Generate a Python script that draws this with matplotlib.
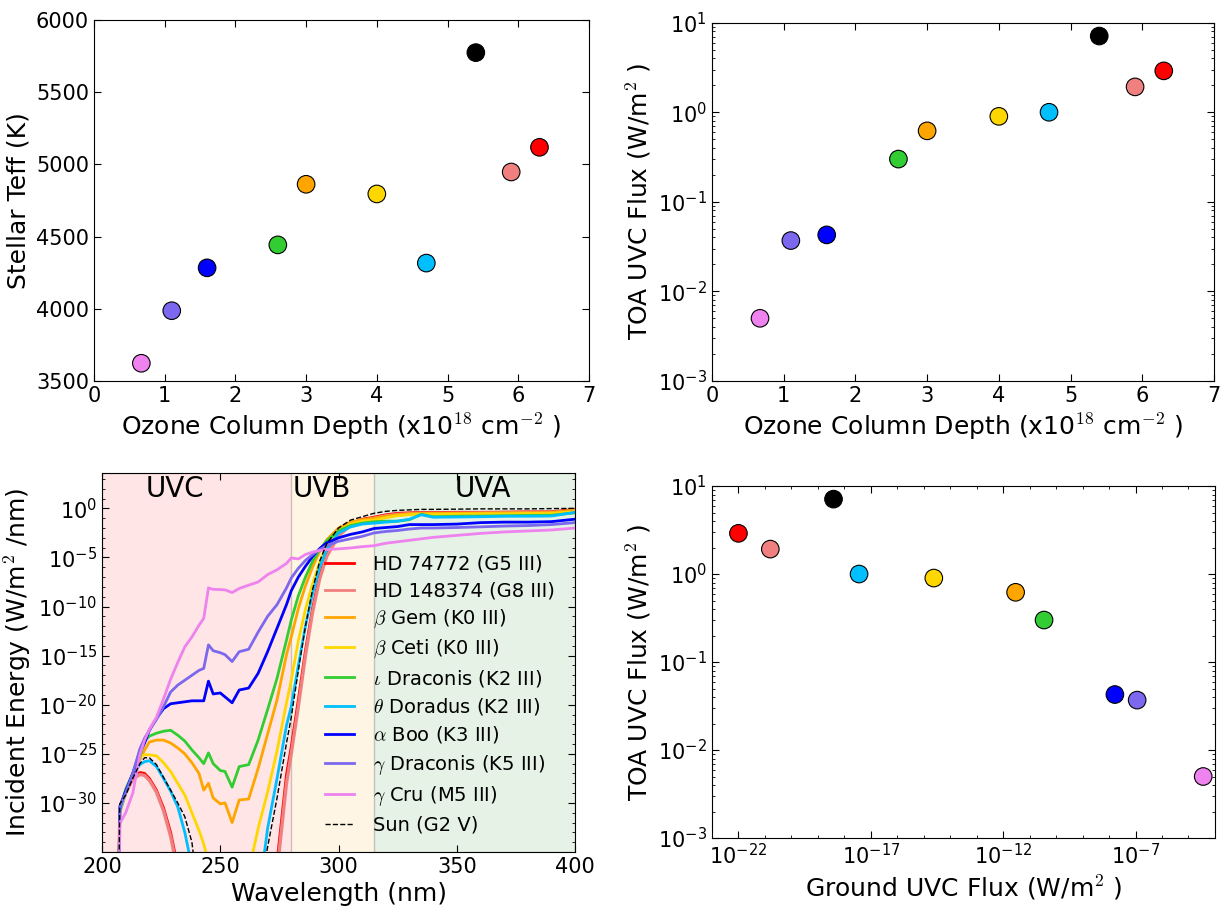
import numpy as np
import matplotlib
matplotlib.use("Agg")
import matplotlib.pyplot as plt

plt.rcParams["font.family"] = ["DejaVu Sans"]
plt.rcParams["mathtext.fontset"] = "cm"
plt.rcParams["xtick.direction"] = "in"
plt.rcParams["ytick.direction"] = "in"
plt.rcParams["xtick.top"] = True
plt.rcParams["ytick.right"] = True
plt.rcParams["xtick.major.size"] = 5
plt.rcParams["ytick.major.size"] = 5
plt.rcParams["xtick.minor.size"] = 2.5
plt.rcParams["ytick.minor.size"] = 2.5
plt.rcParams["xtick.labelsize"] = 15
plt.rcParams["ytick.labelsize"] = 15
plt.rcParams["axes.labelsize"] = 18

# stars, in legend order (Sun last)
names = ["HD 74772 (G5 III)", "HD 148374 (G8 III)", r"$\beta$ Gem (K0 III)",
         r"$\beta$ Ceti (K0 III)", r"$\iota$ Draconis (K2 III)",
         r"$\theta$ Doradus (K2 III)", r"$\alpha$ Boo (K3 III)",
         r"$\gamma$ Draconis (K5 III)", r"$\gamma$ Cru (M5 III)", "Sun (G2 V)"]
colors = ["red", "lightcoral", "orange", "gold", "limegreen",
          "deepskyblue", "blue", "mediumslateblue", "violet", "black"]

ozone = [6.3, 5.9, 3.0, 4.0, 2.6, 4.7, 1.6, 1.1, 0.67, 5.4]          # x1e18 cm^-2
teff = [5118, 4947, 4862, 4795, 4442, 4316, 4283, 3986, 3622, 5774]   # K
toa_uvc = [2.9, 1.92, 0.62, 0.90, 0.30, 1.0, 0.0427, 0.0369, 0.0050, 7.1]
ground_uvc = [1.0e-22, 1.6e-21, 2.95e-12, 2.4e-15, 3.5e-11, 3.6e-18,
              1.66e-8, 1.15e-7, 3.6e-5, 3.9e-19]

# surface spectra: wavelength grid (nm) and log10 incident energy (W/m^2/nm)
wl = [207.0, 207.5, 210, 213, 216, 218, 220, 223, 226, 229, 232, 235, 238,
      241, 243, 245, 247, 250, 252, 255, 258, 262, 266, 270, 274, 278, 280,
      283, 286, 289, 292, 295, 300, 305, 310, 315, 320, 325, 330, 335, 340,
      350, 360, 370, 380, 390, 400]

log_hd74772 = [-40, -30.8, -28.8, -27.4, -26.9, -27.0, -27.5, -28.7, -30.5,
               -33.0, -36.5, -40, -40, -40, -40, -40, -40, -40, -40, -40, -40,
               -40, -40, -40, -36.0, -27.1, -24.3, -19.5, -14.5, -10.2, -6.9,
               -4.7, -2.6, -1.6, -1.1, -0.9, -0.65, -0.5, -0.45, -0.42, -0.42,
               -0.4, -0.4, -0.38, -0.35, -0.35, -0.1]
log_hd148374 = [-40, -30.9, -29.0, -27.6, -27.1, -27.2, -27.7, -28.9, -30.8,
                -33.4, -37.0, -40, -40, -40, -40, -40, -40, -40, -40, -40, -40,
                -40, -40, -40, -37.0, -28.0, -25.0, -20.2, -15.0, -10.6, -7.2,
                -4.9, -2.8, -1.75, -1.25, -1.0, -0.75, -0.6, -0.55, -0.5, -0.5,
                -0.48, -0.47, -0.45, -0.43, -0.42, -0.2]
log_bet_gem = [-40, -30.8, -28.8, -27.0, -25.6, -24.6, -23.8, -23.6, -23.6,
               -23.9, -24.4, -25.0, -25.9, -27.0, -28.7, -28.0, -29.5, -30.1,
               -30.0, -32.0, -29.7, -29.6, -26.5, -23.0, -19.5, -14.9, -13.1,
               -10.2, -7.9, -6.0, -4.4, -3.2, -2.0, -1.4, -1.15, -1.0, -0.8,
               -0.65, -0.55, -0.5, -0.5, -0.5, -0.48, -0.45, -0.45, -0.42, -0.17]
log_bet_ceti = [-40, -30.8, -29.0, -27.0, -25.3, -25.1, -25.1, -25.2, -25.9,
                -26.8, -28.0, -29.2, -31.0, -32.8, -34.2, -36.0, -40, -40, -40,
                -40, -40, -37.0, -32.6, -28.9, -24.7, -19.8, -17.5, -13.5,
                -10.3, -7.7, -5.5, -3.8, -2.3, -1.6, -1.3, -1.2, -0.95, -0.75,
                -0.65, -0.6, -0.6, -0.58, -0.55, -0.55, -0.52, -0.5, -0.34]
log_iot_dra = [-40, -30.6, -28.6, -27.0, -25.3, -23.7, -23.2, -22.9, -22.7,
               -22.6, -23.1, -23.7, -24.6, -25.4, -26.0, -24.9, -26.0, -26.7,
               -26.8, -28.4, -26.3, -26.1, -23.6, -20.5, -17.3, -13.4, -11.4,
               -8.9, -7.0, -5.4, -4.2, -3.3, -2.3, -1.75, -1.5, -1.36, -1.3,
               -1.3, -1.15, -0.6, -0.85, -0.8, -0.78, -0.75, -0.72, -0.7, -0.45]
log_the_dor = [-40, -30.8, -28.8, -27.1, -26.1, -25.8, -25.7, -26.3, -27.5,
               -28.8, -30.4, -33.0, -36.5, -40, -40, -40, -40, -40, -40, -40,
               -40, -40, -40, -32.6, -27.5, -22.1, -20.2, -16.0, -12.0, -8.7,
               -6.0, -4.2, -2.5, -1.9, -1.6, -1.5, -1.4, -1.3, -1.1, -0.65,
               -0.9, -0.88, -0.85, -0.8, -0.8, -0.78, -0.4]
log_alf_boo = [-40, -30.4, -28.8, -27.0, -24.8, -23.9, -22.6, -21.4, -20.4,
               -19.9, -19.8, -19.7, -19.6, -19.6, -19.6, -17.6, -18.9, -18.8,
               -19.2, -19.8, -18.5, -18.3, -16.8, -14.6, -12.2, -9.8, -8.4,
               -7.0, -5.9, -4.9, -4.1, -3.5, -3.0, -2.65, -2.4, -2.05, -1.95,
               -1.85, -1.65, -1.65, -1.65, -1.6, -1.45, -1.4, -1.4, -1.35, -1.1]
log_gam_dra = [-40, -30.4, -29.0, -27.0, -24.5, -23.4, -22.6, -21.5, -20.2,
               -18.7, -18.0, -17.5, -17.0, -16.5, -16.3, -13.9, -14.5, -14.7,
               -14.9, -15.6, -14.6, -14.35, -12.6, -11.0, -9.8, -8.1, -7.1,
               -6.1, -5.3, -4.7, -4.2, -3.8, -3.35, -3.1, -2.85, -2.5, -2.35,
               -2.25, -2.1, -2.0, -2.0, -1.95, -1.88, -1.8, -1.75, -1.65, -1.45]
log_gam_cru = [-40, -32.1, -31.0, -29.0, -25.1, -23.6, -22.5, -21.3, -19.4,
               -17.4, -15.7, -14.1, -13.1, -11.9, -11.2, -8.1, -8.25, -8.27,
               -8.3, -8.57, -8.16, -7.82, -7.5, -6.75, -6.25, -5.6, -5.05,
               -5.15, -4.7, -4.45, -4.3, -4.2, -4.12, -4.03, -3.9, -3.8, -3.55,
               -3.4, -3.25, -3.1, -2.95, -2.75, -2.55, -2.4, -2.3, -2.2, -2.0]
log_sun = [-40, -30.1, -29.2, -27.5, -26.0, -25.4, -25.4, -26.1, -27.4, -28.7,
           -30.0, -31.4, -34.0, -40, -40, -40, -40, -40, -40, -40, -40, -40,
           -40, -34.5, -29.5, -23.9, -21.3, -16.5, -12.0, -8.3, -5.4, -3.6,
           -2.0, -1.2, -0.85, -0.5, -0.3, -0.2, -0.15, -0.1, -0.1, -0.08,
           -0.05, -0.05, -0.05, -0.02, 0.0]

spectra = [log_hd74772, log_hd148374, log_bet_gem, log_bet_ceti, log_iot_dra,
           log_the_dor, log_alf_boo, log_gam_dra, log_gam_cru, log_sun]

fig = plt.figure(figsize=(12.25, 9.09), dpi=100)
ax_tl = fig.add_axes([0.0767, 0.581, 0.4041, 0.397])
ax_tr = fig.add_axes([0.5812, 0.581, 0.4098, 0.394])
ax_bl = fig.add_axes([0.0833, 0.0627, 0.3861, 0.4169])
ax_br = fig.add_axes([0.5812, 0.0781, 0.4106, 0.3872])

marker_kw = dict(s=160, edgecolors="black", linewidths=0.8, zorder=3)

# Teff vs ozone column
ax_tl.scatter(ozone, teff, c=colors, **marker_kw)
ax_tl.set_xlim(0, 7)
ax_tl.set_ylim(3500, 6000)
ax_tl.set_xlabel(r"Ozone Column Depth (x10$^{18}$ cm$^{-2}$ )")
ax_tl.set_ylabel("Stellar Teff (K)")

# TOA flux vs ozone column
ax_tr.scatter(ozone, toa_uvc, c=colors, **marker_kw)
ax_tr.set_yscale("log")
ax_tr.set_xlim(0, 7)
ax_tr.set_ylim(1e-3, 1e1)
ax_tr.set_xlabel(r"Ozone Column Depth (x10$^{18}$ cm$^{-2}$ )")
ax_tr.set_ylabel(r"TOA UVC Flux (W/m$^2$ )")

# surface spectra
ax_bl.axvspan(200, 280, facecolor="red", edgecolor="black", alpha=0.1, lw=1)
ax_bl.axvspan(280, 315, facecolor="orange", edgecolor="black", alpha=0.1, lw=1)
ax_bl.axvspan(315, 400, facecolor="green", edgecolor="black", alpha=0.1, lw=1)
for logf, col, name in zip(spectra, colors, names):
    flux = 10.0 ** np.array(logf)
    if col == "black":
        ax_bl.plot(wl, flux, color=col, ls="--", lw=1.0, label=name, zorder=4)
    else:
        lw = 2.4 if col == "lightcoral" else 2.0
        ax_bl.plot(wl, flux, color=col, lw=lw, label=name)
ax_bl.set_yscale("log")
ax_bl.set_xlim(200, 400)
ax_bl.set_ylim(1e-35, 10 ** 3.6)
ax_bl.set_xticks([200, 250, 300, 350, 400])
ax_bl.set_yticks([1e0, 1e-5, 1e-10, 1e-15, 1e-20, 1e-25, 1e-30])
ax_bl.yaxis.set_minor_locator(matplotlib.ticker.LogLocator(base=10, subs=[1.0], numticks=60))
ax_bl.yaxis.set_minor_formatter(matplotlib.ticker.NullFormatter())
ax_bl.text(231, 10 ** 2.0, "UVC", ha="center", va="center", fontsize=20)
ax_bl.text(293, 10 ** 2.0, "UVB", ha="center", va="center", fontsize=20)
ax_bl.text(361, 10 ** 2.0, "UVA", ha="center", va="center", fontsize=20)
ax_bl.set_xlabel("Wavelength (nm)")
ax_bl.set_ylabel(r"Incident Energy (W/m$^2$ /nm)")
leg = ax_bl.legend(loc="center right", bbox_to_anchor=(0.995, 0.415), frameon=False,
                   fontsize=14, labelspacing=0.38, handlelength=1.5, handletextpad=1.0)
for h in leg.get_lines():
    if h.get_linestyle() != "--":
        h.set_linewidth(2.0)

# TOA flux vs ground flux
ax_br.scatter(ground_uvc, toa_uvc, c=colors, **marker_kw)
ax_br.set_xscale("log")
ax_br.set_yscale("log")
ax_br.set_xlim(1e-23, 1e-4)
ax_br.set_ylim(1e-3, 1e1)
ax_br.set_xticks([1e-22, 1e-17, 1e-12, 1e-7])
ax_br.xaxis.set_minor_locator(matplotlib.ticker.LogLocator(base=10, subs=[1.0], numticks=40))
ax_br.xaxis.set_minor_formatter(matplotlib.ticker.NullFormatter())
ax_br.set_xlabel(r"Ground UVC Flux (W/m$^2$ )")
ax_br.set_ylabel(r"TOA UVC Flux (W/m$^2$ )")

fig.savefig("out.png", dpi=100, facecolor="white")
